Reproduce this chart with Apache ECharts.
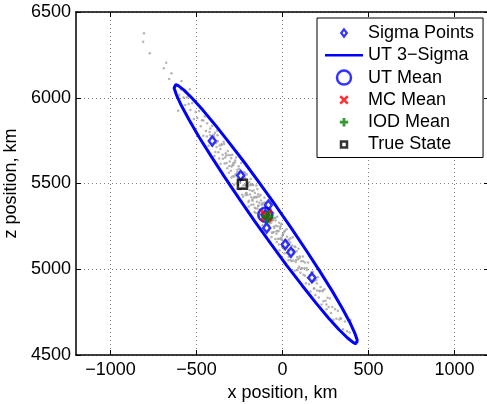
<!DOCTYPE html>
<html>
<head>
<meta charset="utf-8">
<title>UT 3-Sigma vs MC</title>
<script src="https://cdn.jsdelivr.net/npm/echarts@6/dist/echarts.min.js"></script>
<style>
  html, body { margin: 0; padding: 0; background: #fff; }
  #main { width: 487px; height: 404px; }
</style>
</head>
<body>
<div id="main"></div>
<script>
// axis ticks
var xTicks = [-1000, -500, 0, 500, 1000];
var yTicks = [4500, 5000, 5500, 6000, 6500];

// monte carlo samples (gray cloud)
var mcSamples = [
  [-805,6376],[-810,6327],[-771,6259],[-676,6204],[-690,6172],[-645,6143],[-659,6109],[-587,6098],[-538,6049],[-606,5924],
  [-615,6068],[-600,6017],[-590,6048],[-575,6001],[-565,5957],[-555,6003],[-545,5964],[-535,5929],[-525,5970],[-515,5876],
  [-505,5917],[-495,5882],[-485,5923],[-475,5834],[-468,5869],
  [-460,5778],[-460,5868],[-452,5891],[-445,5806],[-438,5851],[-430,5720],[-424,5801],[-418,5738],[-410,5836],[-404,5738],
  [-398,5784],[-390,5683],[-385,5736],[-378,5781],[-372,5682],[-365,5722],[-360,5615],[-354,5731],[-348,5668],[-342,5744],
  [-336,5616],[-330,5677],[-325,5620],[-318,5690],[-312,5562],[-306,5628],[-300,5575],[-298,5647],[-440,5774],[-420,5821],
  [-395,5660],[-380,5809],
  [-296,5599],[-292,5668],[-288,5542],[-285,5608],[-281,5492],[-277,5622],[-274,5552],[-270,5652],[-266,5501],[-263,5567],
  [-259,5516],[-255,5600],[-252,5466],[-248,5565],[-244,5520],[-240,5619],[-237,5475],[-233,5529],[-229,5423],[-226,5564],
  [-222,5473],[-218,5533],[-215,5433],[-211,5488],[-207,5552],[-204,5433],[-200,5492],[-196,5366],[-193,5507],[-189,5436],
  [-185,5526],[-182,5376],[-178,5456],[-174,5400],[-171,5491],[-167,5415],[-163,5334],[-160,5445],[-156,5354],[-152,5489],
  [-149,5394],[-145,5354],[-141,5438],[-138,5309],[-134,5388],[-130,5347],[-127,5433],[-123,5312],[-119,5382],[-116,5257],
  [-112,5387],[-108,5326],[-105,5417],[-101,5266],[-97,5340],[-94,5286],[-90,5370],[-86,5230],[-83,5310],[-79,5255],
  [-75,5384],[-72,5270],[-68,5319],[-64,5188],[-61,5294],[-57,5213],[-53,5328],[-50,5248],[-46,5298],[-42,5177],
  [-39,5253],[-35,5207],[-31,5306],[-28,5177],[-24,5221],[-20,5271],[-17,5111],[-13,5236],[-9,5175],[-6,5266],
  [-2,5130],[2,5199],[5,5140],[9,5219],[13,5093],[16,5169],[20,5144],[24,5233],[27,5094],[31,5168],
  [35,5052],[38,5173],[42,5097],[46,5181],[49,5107],[53,5046],[57,5116],[60,5187],[64,5051],[68,5110],
  [71,4991],[75,5130],[79,5054],[82,5105],[86,4994],[90,5059],[93,5119],[97,5014],[100,5075],
  [-250,5550],[-243,5466],[-236,5566],[-228,5489],[-221,5565],[-213,5444],[-206,5504],[-198,5392],[-191,5462],[-183,5495],
  [-176,5405],[-168,5459],[-161,5359],[-153,5418],[-146,5468],[-139,5372],[-131,5321],[-124,5401],[-117,5351],[-109,5305],
  [-102,5389],[-95,5295],[-87,5338],[-80,5238],[-73,5334],[-65,5273],[-58,5287],[-51,5217],[-43,5301],[-36,5221],
  [-29,5251],[-21,5144],[-14,5244],[-7,5184],[0,5200],[7,5130],[14,5224],[22,5129],[29,5149],[36,5073],
  [44,5157],[51,5091],
  [-420,5782],[-410,5721],[-400,5772],[-392,5796],[-383,5713],[-375,5746],[-368,5646],[-361,5701],[-353,5725],[-346,5645],
  [-339,5730],[-333,5652],[-327,5663],[-321,5589],[-315,5666],[-309,5602],[-303,5664],[-297,5535],[-291,5607],[-286,5620],
  [-280,5541],[-275,5634],[-268,5554],[-262,5580],[-257,5493],[-251,5585],[-246,5508],[-239,5528],[-234,5435],[-227,5540],
  [-220,5491],[-214,5557],[-208,5443],[-201,5483],[-195,5400],[-188,5490],[-181,5420],[-175,5491],[-169,5378],[-162,5423],
  [-155,5328],[-148,5423],[-142,5369],[-135,5424],[-128,5324],[-121,5374],[-114,5279],[-106,5333],[-99,5363],[-92,5268],
  [-84,5317],[-77,5272],[-70,5352],[-62,5215],[-55,5285],[-48,5240],[-40,5284],[-33,5159],[-26,5224],[-18,5178],
  [-11,5253],[-4,5173],[4,5206],[11,5116],[18,5166],[26,5190],[33,5110],[40,5145],[48,5054],[55,5139],
  [62,5089],[70,5132],[77,5042],[85,5071],[92,5006],[100,5065],[110,5005],[120,5046],[130,4962],[142,4995],
  [155,4946],[170,4965],[185,4888],[200,4917],[215,4871],[235,4877],[255,4794],
  [104,4979],[109,5047],[113,5006],[118,5074],[122,4968],[127,5006],[131,5040],[136,4918],[140,5008],[145,4950],
  [149,5040],[154,4913],[158,4967],[163,4870],[168,4983],[172,4927],[177,4985],[182,4888],[186,4932],[191,4850],
  [196,4938],[201,4876],[206,4953],[211,4836],[216,4874],[221,4897],[227,4794],[232,4871],[238,4813],[244,4884],
  [250,4816],[256,4767],[262,4834],[268,4780],[275,4830],[282,4745],[289,4780],[296,4705],
  [305,4767],[313,4711],[322,4758],[330,4707],[340,4712],[352,4650],[363,4695],[375,4638],[390,4631],
  [337,4716],[395,4704]
];

// UT 3-sigma ellipse outline
var ellipse3Sigma = [
  [431,4568],[434,4575],[434,4587],[420,4628],[391,4691],[347,4773],[290,4871],[220,4983],[141,5105],[55,5234],
  [-36,5366],[-129,5496],[-220,5621],[-309,5737],[-390,5840],[-463,5928],[-525,5997],[-574,6046],[-608,6072],[-620,6077],
  [-627,6076],[-630,6069],[-630,6057],[-616,6016],[-587,5953],[-543,5872],[-486,5773],[-416,5661],[-337,5539],[-251,5410],
  [-160,5278],[-67,5148],[24,5023],[113,4907],[194,4804],[267,4716],[329,4647],[378,4599],[412,4572],[424,4567],
  [431,4568]
];

var sigmaPoints = [[-408,5748],[-243,5546],[-82,5375],[-100,5318],[-92,5240],[16,5145],[49,5099],[171,4951]];
var utMean = [[-100,5318]];
var mcMean = [[-95,5312]];
var iodMean = [[-88,5305]];
var trueState = [[-233,5495]];

var FONT = '"Liberation Sans", Arial, Helvetica, sans-serif';
var BLUE = '#0000ff';

// marker shapes (filled outlines)
var xPath = 'path://M0,1.7L1.7,0L5,3.3L8.3,0L10,1.7L6.7,5L10,8.3L8.3,10L5,6.7L1.7,10L0,8.3L3.3,5Z';
var plusPath = 'path://M3.2,0H6.8V3.2H10V6.8H6.8V10H3.2V6.8H0V3.2H3.2Z';

function minusSign(v) {
    return String(v).replace('-', '\u2212');
}

var chart = echarts.init(document.getElementById('main'));

var option = {
    animation: false,
    backgroundColor: '#fff',
    grid: {
        left: 76, top: 12, width: 413, height: 343,
        outerBoundsMode: 'none'
    },
    legend: {
        orient: 'vertical',
        left: 317, top: 18,
        padding: [4, 9, 2, 8],
        itemWidth: 38, itemHeight: 16, itemGap: 0.3,
        backgroundColor: '#fff',
        borderColor: '#000', borderWidth: 1, borderRadius: 0,
        selectedMode: false,
        z: 20,
        textStyle: { fontFamily: FONT, fontSize: 18, color: '#000', lineHeight: 22 },
        data: [
            { name: 'Sigma Points', icon: 'path://M0,0M16,16M8,4.4L10.8,8L8,11.6L5.2,8Z',
              itemStyle: { color: '#fff', borderColor: BLUE, borderWidth: 2.2 } },
            { name: 'UT 3\u2212Sigma', icon: 'path://M0,0H38V2.5H0Z',
              itemStyle: { color: BLUE, borderWidth: 0 } },
            { name: 'UT Mean', icon: 'path://M0,0M16,16M15,8A7,7,0,1,1,1,8A7,7,0,1,1,15,8Z',
              itemStyle: { color: 'rgba(0,0,0,0)', borderColor: BLUE, borderWidth: 2.5 } },
            { name: 'MC Mean', icon: 'path://M0,0M16,16M3.3,5.2L5.2,3.3L8,6.1L10.8,3.3L12.7,5.2L9.9,8L12.7,10.8L10.8,12.7L8,9.9L5.2,12.7L3.3,10.8L6.1,8Z',
              itemStyle: { color: '#ff0000', borderWidth: 0 } },
            { name: 'IOD Mean', icon: 'path://M0,0M16,16M6.6,3.8H9.4V6.6H12.2V9.4H9.4V12.2H6.6V9.4H3.8V6.6H6.6Z',
              itemStyle: { color: '#008000', borderWidth: 0 } },
            { name: 'True State', icon: 'path://M0,0M16,16M5,5H11V11H5Z',
              itemStyle: { color: 'rgba(0,0,0,0)', borderColor: '#000', borderWidth: 2.5 } }
        ]
    },
    xAxis: [{
        type: 'value', min: -1200, max: 1200, position: 'bottom',
        name: 'x position, km', nameLocation: 'middle', nameGap: 22,
        nameTextStyle: { fontFamily: FONT, fontSize: 18, color: '#000' },
        axisLine: { onZero: false, lineStyle: { color: '#000', width: 1.5 } },
        axisTick: { inside: true, length: 5, customValues: xTicks, lineStyle: { color: '#000' } },
        axisLabel: { customValues: xTicks, formatter: minusSign, margin: 6,
                     fontFamily: FONT, fontSize: 18, color: '#000' },
        splitLine: { show: true, lineStyle: { type: [1, 3], color: '#808080', width: 1 } }
    }, {
        type: 'value', min: -1200, max: 1200, position: 'top',
        axisLine: { onZero: false, lineStyle: { color: '#000', width: 1.5 } },
        axisTick: { inside: true, length: 5, customValues: xTicks, lineStyle: { color: '#000' } },
        axisLabel: { show: false },
        splitLine: { show: false }
    }],
    yAxis: [{
        type: 'value', min: 4500, max: 6500, interval: 500, position: 'left',
        name: 'z position, km', nameLocation: 'middle', nameGap: 47,
        nameTextStyle: { fontFamily: FONT, fontSize: 18, color: '#000' },
        axisLine: { show: true, onZero: false, lineStyle: { color: '#000', width: 1.5 } },
        axisTick: { show: true, inside: true, length: 5, customValues: yTicks, lineStyle: { color: '#000' } },
        axisLabel: { customValues: yTicks, formatter: minusSign, margin: 5,
                     fontFamily: FONT, fontSize: 18, color: '#000' },
        splitLine: { show: true, lineStyle: { type: [1, 3], color: '#808080', width: 1 } }
    }, {
        type: 'value', min: 4500, max: 6500, interval: 500, position: 'right',
        axisLine: { show: true, onZero: false, lineStyle: { color: '#000', width: 1.5 } },
        axisTick: { show: true, inside: true, length: 5, customValues: yTicks, lineStyle: { color: '#000' } },
        axisLabel: { show: false },
        splitLine: { show: false }
    }],
    series: [
        {
            name: 'MC Samples', type: 'scatter', data: mcSamples,
            symbol: 'circle', symbolSize: 2.5,
            itemStyle: { color: '#a2a2a2' }, silent: true, z: 1
        },
        {
            name: 'UT 3\u2212Sigma', type: 'line', data: ellipse3Sigma,
            symbol: 'none', showSymbol: false, smooth: false,
            color: BLUE,
            lineStyle: { color: BLUE, width: 3 }, z: 2
        },
        {
            name: 'Sigma Points', type: 'scatter', data: sigmaPoints,
            symbol: 'diamond', symbolSize: [7, 9],
            itemStyle: { color: '#fff', borderColor: BLUE, borderWidth: 2.5 }, z: 3
        },
        {
            name: 'UT Mean', type: 'scatter', data: utMean,
            symbol: 'circle', symbolSize: 14,
            itemStyle: { color: 'rgba(0,0,0,0)', borderColor: BLUE, borderWidth: 2.5 }, z: 4
        },
        {
            name: 'MC Mean', type: 'scatter', data: mcMean,
            symbol: xPath, symbolSize: 13,
            itemStyle: { color: '#ff0000' }, z: 5
        },
        {
            name: 'IOD Mean', type: 'scatter', data: iodMean,
            symbol: plusPath, symbolSize: 12,
            itemStyle: { color: '#008000' }, z: 6
        },
        {
            name: 'True State', type: 'scatter', data: trueState,
            symbol: 'rect', symbolSize: 9,
            itemStyle: { color: 'rgba(0,0,0,0)', borderColor: '#000', borderWidth: 2.5 }, z: 7
        }
    ]
};

chart.setOption(option);
</script>
</body>
</html>
